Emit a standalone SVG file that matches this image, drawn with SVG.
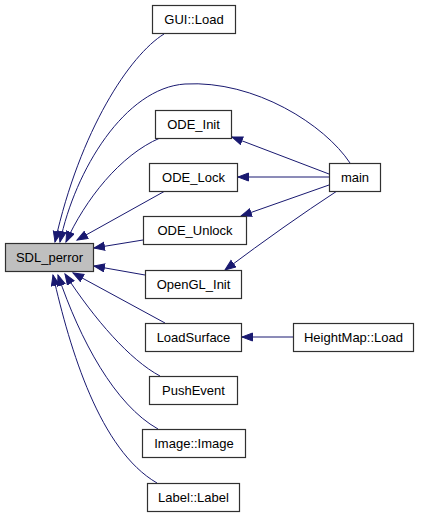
<svg xmlns="http://www.w3.org/2000/svg" width="421" height="517" viewBox="0 0 421 517">
<style>
.n rect{fill:#ffffff;stroke:#303030;stroke-width:1.2}
.n text{font-family:"Liberation Sans",Arial,sans-serif;font-size:13px;text-anchor:middle;fill:#000000}
#SDL_perror rect{fill:#bfbfbf}
.e path{fill:none;stroke:#191970;stroke-width:1;marker-end:url(#ah)}
</style>
<defs>
<marker id="ah" markerWidth="13" markerHeight="10" refX="11" refY="4.5" orient="auto" markerUnits="userSpaceOnUse">
<path d="M0.5,0.5 L11,4.5 L0.5,8.5 z" fill="#191970" stroke="#191970" stroke-width="1"/>
</marker>
</defs>
<rect width="421" height="517" fill="#ffffff"/>
<g class="e" id="connectors">
<path d="M164,34 C130,55 80,130 55,242"/>
<path d="M350,163 C325,125 255,80 185,84 C125,88 75,170 60,242"/>
<path d="M160,138 C120,155 85,200 66,242"/>
<path d="M165,191 L77,240"/>
<path d="M143,240 L94,248"/>
<path d="M145,275 L94,266"/>
<path d="M165,323 L73,273"/>
<path d="M160,376 C130,360 95,320 65,274"/>
<path d="M158,429 C115,405 80,340 58,275"/>
<path d="M157,483 C100,450 70,350 53,275"/>
<path d="M329,174 L232,137"/>
<path d="M329,177 L238,177"/>
<path d="M329,185 L241,216"/>
<path d="M337,191 Q285,225 225,270"/>
<path d="M293,337 L242,337"/>
</g>
<g class="n" id="SDL_perror"><rect x="5.5" y="243.5" width="88" height="28"/><text x="49.5" y="262">SDL_perror</text></g>
<g class="n" id="GUI_Load"><rect x="152.5" y="5.5" width="83" height="28"/><text x="194" y="24">GUI::Load</text></g>
<g class="n" id="ODE_Init"><rect x="155.5" y="110.5" width="76" height="28"/><text x="193.5" y="129">ODE_Init</text></g>
<g class="n" id="ODE_Lock"><rect x="149.5" y="163.5" width="88" height="28"/><text x="193.5" y="182">ODE_Lock</text></g>
<g class="n" id="ODE_Unlock"><rect x="143.5" y="216.5" width="103" height="28"/><text x="195" y="235">ODE_Unlock</text></g>
<g class="n" id="OpenGL_Init"><rect x="145.5" y="270.5" width="96" height="28"/><text x="193.5" y="289">OpenGL_Init</text></g>
<g class="n" id="LoadSurface"><rect x="145.5" y="323.5" width="96" height="28"/><text x="193.5" y="342">LoadSurface</text></g>
<g class="n" id="PushEvent"><rect x="149.5" y="376.5" width="88" height="28"/><text x="193.5" y="395">PushEvent</text></g>
<g class="n" id="Image_Image"><rect x="142.5" y="429.5" width="103" height="28"/><text x="194" y="448">Image::Image</text></g>
<g class="n" id="Label_Label"><rect x="147.5" y="483.5" width="92" height="28"/><text x="193.5" y="502">Label::Label</text></g>
<g class="n" id="main"><rect x="329.5" y="163.5" width="51" height="28"/><text x="355" y="182">main</text></g>
<g class="n" id="HeightMap_Load"><rect x="293.5" y="323.5" width="120" height="28"/><text x="353.5" y="342">HeightMap::Load</text></g>
</svg>
